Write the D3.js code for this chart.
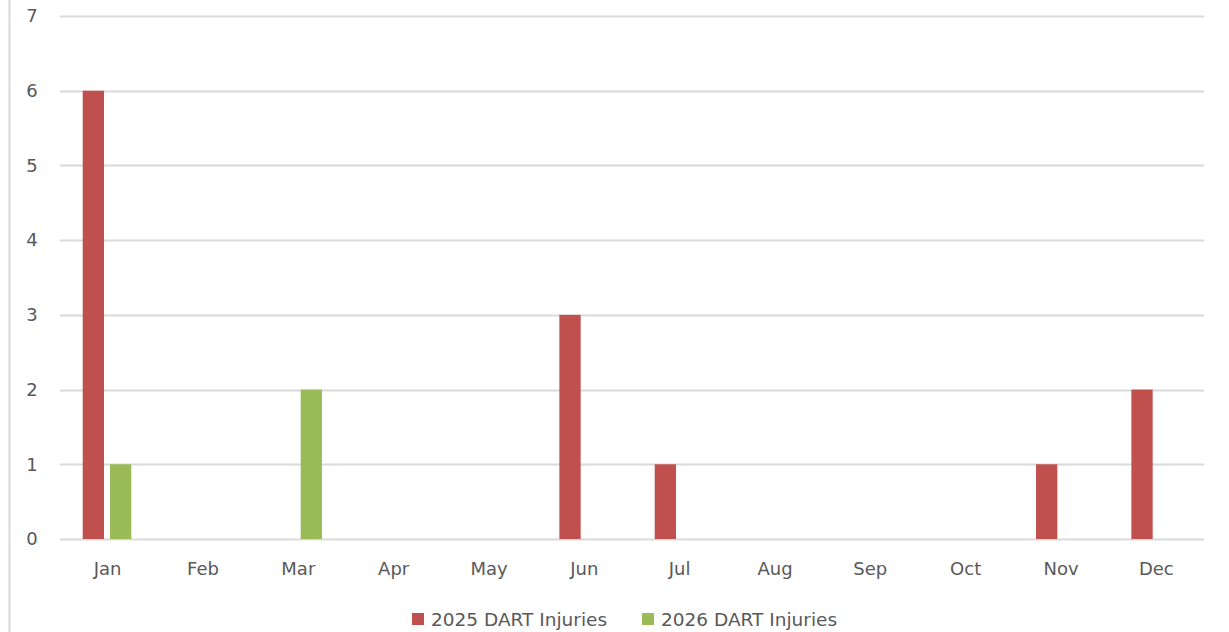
<!DOCTYPE html>
<html>
<head>
<meta charset="utf-8">
<script src="https://cdn.jsdelivr.net/npm/d3@7"></script>
<style>
  html, body { margin: 0; padding: 0; background: #fff; }
  svg text { font-family: 'DejaVu Sans', sans-serif; fill: #595959; }
</style>
</head>
<body>
<svg id="chart" width="1229" height="632"></svg>
<script>
var months = ['Jan', 'Feb', 'Mar', 'Apr', 'May', 'Jun', 'Jul', 'Aug', 'Sep', 'Oct', 'Nov', 'Dec']
var injuries2025 = [6, 0, 0, 0, 0, 3, 1, 0, 0, 0, 1, 2]
var injuries2026 = [1, 0, 2, 0, 0, 0, 0, 0, 0, 0, 0, 0]
var seriesNames = ['2025 DART Injuries', '2026 DART Injuries']
var seriesColors = ['#C0504D', '#9BBB59']
var yTicks = [0, 1, 2, 3, 4, 5, 6, 7]

var svg = d3.select('#chart')
var margin = { top: 16, right: 25, bottom: 93, left: 60 },
  width = +svg.attr('width') - margin.left - margin.right,
  height = +svg.attr('height') - margin.top - margin.bottom

// left frame line
svg.append('line')
  .attr('x1', 9.5).attr('x2', 9.5).attr('y1', 0).attr('y2', 632)
  .attr('stroke', '#d9d9d9').attr('stroke-width', 2)

var x = d3.scaleBand().domain(months).range([0, width]).padding(0),
  x1 = d3.scaleBand().domain([0, 1]).range([22.7, 71.3]).paddingInner(0.22).paddingOuter(0),
  y = d3.scaleLinear().domain([0, 7]).range([height, 0])

var g = svg.append('g')
  .attr('transform', 'translate(' + margin.left + ',' + margin.top + ')')

// gridlines
g.append('g')
  .selectAll('line')
  .data(yTicks)
  .enter()
  .append('line')
  .attr('x1', 0)
  .attr('x2', width)
  .attr('y1', function (d) { return Math.round(y(d)) + 0.5 })
  .attr('y2', function (d) { return Math.round(y(d)) + 0.5 })
  .attr('stroke', '#d9d9d9')
  .attr('stroke-width', 2)

// y labels
g.append('g')
  .selectAll('text')
  .data(yTicks)
  .enter()
  .append('text')
  .attr('x', -28)
  .attr('y', function (d) { return y(d) })
  .attr('dy', '0.35em')
  .attr('text-anchor', 'middle')
  .style('font-size', '18px')
  .text(function (d) { return d })

// x labels
g.append('g')
  .selectAll('text')
  .data(months)
  .enter()
  .append('text')
  .attr('x', function (d) { return x(d) + x.bandwidth() / 2 })
  .attr('y', height + 30)
  .attr('dy', '0.35em')
  .attr('text-anchor', 'middle')
  .style('font-size', '18px')
  .text(function (d) { return d })

var series = [injuries2025, injuries2026]
series.forEach(function (vals, si) {
  g.append('g')
    .selectAll('rect')
    .data(vals.map(function (v, i) { return { m: months[i], v: v } }).filter(function (d) { return d.v > 0 }))
    .enter()
    .append('rect')
    .attr('x', function (d) { return x(d.m) + x1(si) })
    .attr('y', function (d) { return y(d.v) })
    .attr('width', x1.bandwidth())
    .attr('height', function (d) { return height - y(d.v) })
    .attr('fill', seriesColors[si])
})

// legend
var legendX = [412, 642]
var legend = svg.append('g')
seriesNames.forEach(function (name, i) {
  legend.append('rect')
    .attr('x', legendX[i]).attr('y', 613)
    .attr('width', 12).attr('height', 12)
    .attr('fill', seriesColors[i])
  legend.append('text')
    .attr('x', legendX[i] + 19).attr('y', 619.5)
    .attr('dy', '0.35em')
    .style('font-size', '18.5px')
    .text(name)
})
</script>
</body>
</html>
